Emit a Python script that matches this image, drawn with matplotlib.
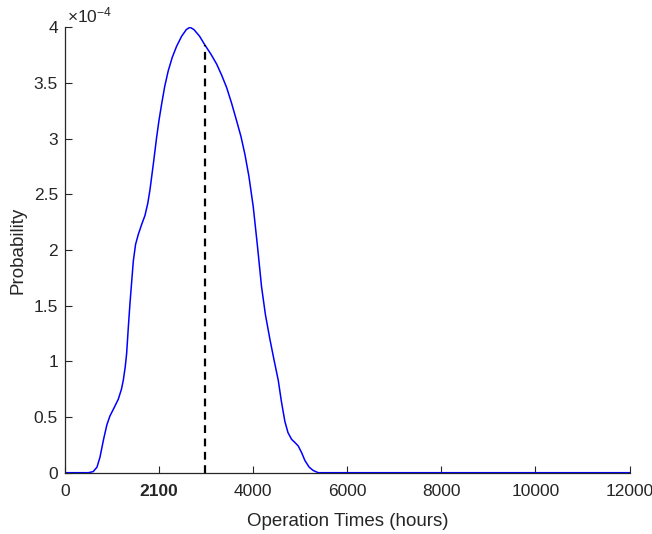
import matplotlib.pyplot as plt

plt.rcParams['font.family'] = ['Liberation Sans', 'DejaVu Sans']
plt.rcParams['mathtext.fontset'] = 'custom'
plt.rcParams['mathtext.rm'] = 'Liberation Sans'
plt.rcParams['mathtext.it'] = 'Liberation Sans'

# operation time (hours) and probability (x 1e-4)
hours = [0, 300, 500, 600, 680, 744, 820, 890, 956, 1040, 1133, 1200, 1239, 1280, 1310,
         1345, 1381, 1420, 1452, 1500, 1558, 1630, 1700, 1760, 1806, 1880, 1947, 2000,
         2054, 2120, 2195, 2280, 2373, 2480, 2580, 2656, 2740, 2860, 2975, 3100, 3223,
         3330, 3435, 3540, 3648, 3740, 3824, 3910, 4001, 4090, 4178, 4260, 4355, 4440,
         4533, 4600, 4674, 4740, 4816, 4890, 4958, 5030, 5099, 5190, 5276, 5382, 6000,
         9000, 12000]
prob = [0, 0, 0, 0.01, 0.05, 0.14, 0.30, 0.43, 0.51, 0.58, 0.66, 0.75, 0.83, 0.95, 1.07,
        1.30, 1.52, 1.73, 1.90, 2.05, 2.14, 2.23, 2.31, 2.42, 2.54, 2.78, 3.01, 3.17,
        3.31, 3.47, 3.61, 3.73, 3.83, 3.92, 3.98, 4.00, 3.98, 3.92, 3.84, 3.76, 3.67,
        3.57, 3.46, 3.32, 3.16, 3.02, 2.86, 2.66, 2.39, 2.04, 1.67, 1.42, 1.20, 1.02,
        0.83, 0.64, 0.46, 0.36, 0.30, 0.27, 0.24, 0.18, 0.11, 0.05, 0.02, 0.0, 0.0,
        0.0, 0.0]
mark_hours = 2975
mark_prob = 3.84

xticks = [0, 2000, 4000, 6000, 8000, 10000, 12000]
xticklabels = ['0', '2100', '4000', '6000', '8000', '10000', '12000']
yticks = [0, 0.5, 1, 1.5, 2, 2.5, 3, 3.5, 4]
yticklabels = ['0', '0.5', '1', '1.5', '2', '2.5', '3', '3.5', '4']

txt = '#262626'
fig = plt.figure(figsize=(6.52, 5.34), dpi=100)
ax = fig.add_axes([0.0997, 0.1148, 0.8658, 0.8341])

ax.plot(hours, [p * 1e-4 for p in prob], color='#0000ff', lw=1.1)
ax.plot([mark_hours, mark_hours], [0, mark_prob * 1e-4], color='black', lw=1.6,
        linestyle=(0, (3.5, 2.5)))

ax.set_xlim(0, 12000)
ax.set_ylim(0, 4e-4)
ax.set_xticks(xticks)
ax.set_xticklabels(xticklabels)
ax.get_xticklabels()[1].set_fontweight('bold')
ax.set_yticks([v * 1e-4 for v in yticks])
ax.set_yticklabels(yticklabels)

for s in ['top', 'right']:
    ax.spines[s].set_visible(False)
for s in ['left', 'bottom']:
    ax.spines[s].set_color(txt)
    ax.spines[s].set_linewidth(0.9)
ax.tick_params(direction='in', length=5, width=0.8, colors=txt, labelsize=12.5)
ax.tick_params(axis='x', pad=8)
ax.tick_params(axis='y', pad=5)

ax.text(0.003, 1.004, r'$\times10^{-4}$', transform=ax.transAxes, fontsize=12.5,
        color=txt, ha='left', va='bottom')

ax.set_xlabel('Operation Times (hours)', fontsize=13.5, color=txt, labelpad=10)
ax.set_ylabel('Probability', fontsize=13.5, color=txt, labelpad=5)

fig.savefig('out.png', dpi=100)
